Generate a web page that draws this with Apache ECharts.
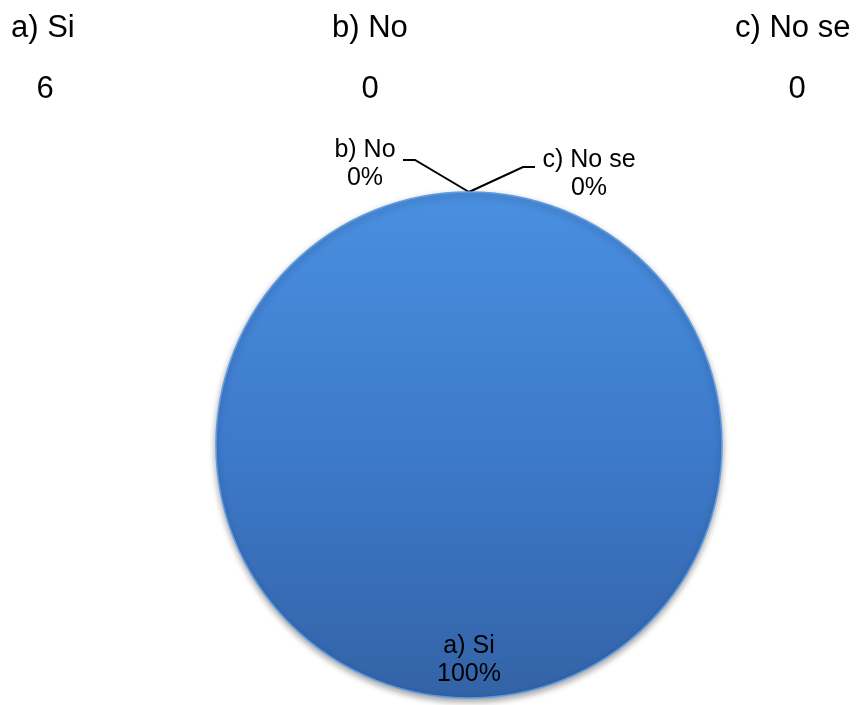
<!DOCTYPE html>
<html>
<head>
<meta charset="utf-8">
<script src="https://cdn.jsdelivr.net/npm/echarts@6/dist/echarts.min.js"></script>
<style>
html,body{margin:0;padding:0;background:#fff;}
#chart{width:860px;height:705px;}
</style>
</head>
<body>
<div id="chart"></div>
<script>
// ---- data ----
var categories = ['a) Si', 'b) No', 'c) No se'];
var counts = [6, 0, 0];

// ---- layout (positions / styles only) ----
var CX = 469, CY = 445, R = 253;
var headerLabelX = [11, 332, 735];
var headerValueX = [45, 370, 797];
var FONT = '"Liberation Sans", Arial, sans-serif';

var chart = echarts.init(document.getElementById('chart'), null, {renderer: 'canvas'});

var graphics = [];
categories.forEach(function (c, i) {
  graphics.push({
    type: 'text', x: headerLabelX[i], y: 28,
    style: {text: c, font: '31px ' + FONT, fill: '#000',
            textAlign: 'left', textVerticalAlign: 'middle'}
  });
  graphics.push({
    type: 'text', x: headerValueX[i], y: 89,
    style: {text: String(counts[i]), font: '31px ' + FONT, fill: '#000',
            textAlign: 'center', textVerticalAlign: 'middle'}
  });
});

var pieData = categories.map(function (c, i) {
  var d = {name: c, value: counts[i]};
  if (i === 0) {
    d.itemStyle = {
      color: new echarts.graphic.LinearGradient(0, 0, 0, 1, [
        {offset: 0, color: '#4a8fe0'},
        {offset: 0.5, color: '#3d7acb'},
        {offset: 1, color: '#3363a6'}
      ]),
      borderColor: '#5f9be3',
      borderWidth: 1.5,
      shadowBlur: 6,
      shadowOffsetY: 3,
      shadowColor: 'rgba(0,0,0,0.35)'
    };
    d.label = {position: 'inside'};
    d.labelLine = {show: false};
  } else {
    d.itemStyle = {color: '#4f81bd', borderWidth: 0};
    d.label = {position: 'outside'};
    d.labelLine = {show: true, lineStyle: {color: '#000', width: 2}};
  }
  return d;
});

var option = {
  backgroundColor: '#fff',
  animation: false,
  graphic: graphics,
  series: [{
    type: 'pie',
    center: [CX, CY],
    radius: R,
    startAngle: 90,
    clockwise: true,
    avoidLabelOverlap: false,
    stillShowZeroSum: true,
    minShowLabelAngle: 0,
    emphasis: {disabled: true},
    label: {
      show: true,
      formatter: '{b}\n{d}%',
      color: '#000',
      fontFamily: FONT,
      fontSize: 25,
      lineHeight: 28,
      align: 'center'
    },
    labelLayout: function (p) {
      var top = [CX, CY - R];
      if (p.dataIndex === 0) {
        return {x: CX, y: CY + R * 0.85, align: 'center', verticalAlign: 'middle'};
      }
      if (p.dataIndex === 1) {
        return {
          x: CX - 104, y: top[1] - 28, align: 'center', verticalAlign: 'middle',
          labelLinePoints: [top, [top[0] - 54, top[1] - 32], [top[0] - 66, top[1] - 32]]
        };
      }
      return {
        x: CX + 120, y: top[1] - 18, align: 'center', verticalAlign: 'middle',
        labelLinePoints: [top, [top[0] + 54, top[1] - 25], [top[0] + 66, top[1] - 25]]
      };
    },
    data: pieData
  }]
};
chart.setOption(option);
</script>
</body>
</html>
